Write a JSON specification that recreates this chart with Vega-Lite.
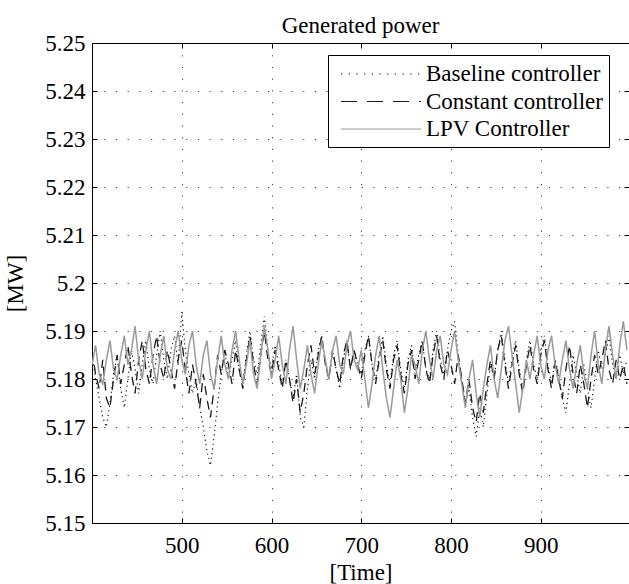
{
  "$schema": "https://vega.github.io/schema/vega-lite/v6.json",
  "autosize": {"type": "none"},
  "padding": {"left": 92, "top": 43, "right": 0, "bottom": 61},
  "width": 537,
  "height": 480,
  "background": "white",
  "title": {"text": "Generated power", "font": "Liberation Serif", "fontSize": 23, "fontWeight": "normal", "color": "black", "baseline": "alphabetic", "offset": 11, "dy": 35, "anchor": "middle"},
  "config": {
    "view": {"stroke": null},
    "axis": {"labelFont": "Liberation Serif", "labelFontSize": 23, "labelColor": "black", "titleFont": "Liberation Serif", "titleFontSize": 23, "titleFontWeight": "normal", "titleColor": "black", "domainColor": "black", "domainWidth": 1, "tickColor": "black", "tickWidth": 1, "tickSize": -5, "gridColor": "#000000", "gridOpacity": 0.75, "gridDash": [1.2, 10.5], "gridWidth": 1},
    "legend": {"labelFont": "Liberation Serif", "labelFontSize": 23, "labelColor": "black", "labelLimit": 0}
  },
  "data": {"values": [
    {"t":400,"b":5.185,"c":5.186,"l":5.183},{"t":404,"b":5.180,"c":5.181,"l":5.187},{"t":408,"b":5.176,"c":5.178,"l":5.181},{"t":412,"b":5.172,"c":5.184,"l":5.179},{"t":416,"b":5.170,"c":5.176,"l":5.184},
    {"t":420,"b":5.175,"c":5.174,"l":5.188},{"t":424,"b":5.181,"c":5.180,"l":5.182},{"t":428,"b":5.185,"c":5.185,"l":5.180},{"t":432,"b":5.178,"c":5.179,"l":5.185},{"t":436,"b":5.174,"c":5.183,"l":5.189},
    {"t":440,"b":5.180,"c":5.187,"l":5.183},{"t":444,"b":5.186,"c":5.181,"l":5.186},{"t":448,"b":5.182,"c":5.177,"l":5.191},{"t":452,"b":5.177,"c":5.184,"l":5.184},{"t":456,"b":5.183,"c":5.188,"l":5.180},
    {"t":460,"b":5.188,"c":5.182,"l":5.186},{"t":464,"b":5.182,"c":5.179,"l":5.190},{"t":468,"b":5.179,"c":5.185,"l":5.183},{"t":472,"b":5.185,"c":5.189,"l":5.179},{"t":476,"b":5.190,"c":5.183,"l":5.185},
    {"t":480,"b":5.184,"c":5.180,"l":5.189},{"t":484,"b":5.180,"c":5.186,"l":5.182},{"t":488,"b":5.186,"c":5.182,"l":5.180},{"t":492,"b":5.189,"c":5.178,"l":5.186},{"t":496,"b":5.183,"c":5.184,"l":5.190},
    {"t":500,"b":5.194,"c":5.188,"l":5.184},{"t":504,"b":5.186,"c":5.182,"l":5.181},{"t":508,"b":5.181,"c":5.177,"l":5.187},{"t":512,"b":5.177,"c":5.183,"l":5.190},{"t":516,"b":5.180,"c":5.179,"l":5.183},
    {"t":520,"b":5.174,"c":5.174,"l":5.179},{"t":524,"b":5.170,"c":5.181,"l":5.185},{"t":528,"b":5.165,"c":5.176,"l":5.188},{"t":532,"b":5.162,"c":5.172,"l":5.181},{"t":536,"b":5.168,"c":5.178,"l":5.178},
    {"t":540,"b":5.175,"c":5.185,"l":5.184},{"t":544,"b":5.181,"c":5.181,"l":5.189},{"t":548,"b":5.186,"c":5.186,"l":5.183},{"t":552,"b":5.180,"c":5.183,"l":5.180},{"t":556,"b":5.184,"c":5.179,"l":5.186},
    {"t":560,"b":5.188,"c":5.186,"l":5.190},{"t":564,"b":5.182,"c":5.182,"l":5.184},{"t":568,"b":5.179,"c":5.178,"l":5.179},{"t":572,"b":5.185,"c":5.184,"l":5.183},{"t":576,"b":5.190,"c":5.189,"l":5.188},
    {"t":580,"b":5.184,"c":5.183,"l":5.181},{"t":584,"b":5.181,"c":5.179,"l":5.178},{"t":588,"b":5.187,"c":5.185,"l":5.185},{"t":592,"b":5.193,"c":5.190,"l":5.191},{"t":596,"b":5.186,"c":5.184,"l":5.186},
    {"t":600,"b":5.182,"c":5.181,"l":5.180},{"t":604,"b":5.187,"c":5.186,"l":5.184},{"t":608,"b":5.183,"c":5.182,"l":5.189},{"t":612,"b":5.179,"c":5.178,"l":5.183},{"t":616,"b":5.184,"c":5.184,"l":5.179},
    {"t":620,"b":5.180,"c":5.180,"l":5.186},{"t":624,"b":5.176,"c":5.175,"l":5.191},{"t":628,"b":5.181,"c":5.180,"l":5.184},{"t":632,"b":5.172,"c":5.173,"l":5.178},{"t":636,"b":5.170,"c":5.177,"l":5.182},
    {"t":640,"b":5.178,"c":5.183,"l":5.187},{"t":644,"b":5.184,"c":5.187,"l":5.181},{"t":648,"b":5.180,"c":5.181,"l":5.177},{"t":652,"b":5.186,"c":5.185,"l":5.183},{"t":656,"b":5.189,"c":5.189,"l":5.188},
    {"t":660,"b":5.183,"c":5.183,"l":5.184},{"t":664,"b":5.180,"c":5.180,"l":5.180},{"t":668,"b":5.186,"c":5.186,"l":5.186},{"t":672,"b":5.182,"c":5.182,"l":5.189},{"t":676,"b":5.178,"c":5.179,"l":5.183},
    {"t":680,"b":5.184,"c":5.185,"l":5.181},{"t":684,"b":5.188,"c":5.188,"l":5.187},{"t":688,"b":5.182,"c":5.182,"l":5.190},{"t":692,"b":5.186,"c":5.186,"l":5.184},{"t":696,"b":5.183,"c":5.183,"l":5.182},
    {"t":700,"b":5.181,"c":5.180,"l":5.186},{"t":704,"b":5.186,"c":5.185,"l":5.180},{"t":708,"b":5.189,"c":5.189,"l":5.174},{"t":712,"b":5.183,"c":5.183,"l":5.179},{"t":716,"b":5.180,"c":5.179,"l":5.185},
    {"t":720,"b":5.185,"c":5.184,"l":5.189},{"t":724,"b":5.189,"c":5.188,"l":5.182},{"t":728,"b":5.183,"c":5.182,"l":5.176},{"t":732,"b":5.179,"c":5.178,"l":5.172},{"t":736,"b":5.185,"c":5.184,"l":5.178},
    {"t":740,"b":5.188,"c":5.187,"l":5.184},{"t":744,"b":5.182,"c":5.181,"l":5.180},{"t":748,"b":5.178,"c":5.177,"l":5.173},{"t":752,"b":5.184,"c":5.183,"l":5.178},{"t":756,"b":5.187,"c":5.186,"l":5.185},
    {"t":760,"b":5.181,"c":5.180,"l":5.183},{"t":764,"b":5.185,"c":5.184,"l":5.179},{"t":768,"b":5.188,"c":5.188,"l":5.186},{"t":772,"b":5.182,"c":5.182,"l":5.190},{"t":776,"b":5.180,"c":5.179,"l":5.184},
    {"t":780,"b":5.186,"c":5.185,"l":5.180},{"t":784,"b":5.190,"c":5.189,"l":5.186},{"t":788,"b":5.184,"c":5.183,"l":5.189},{"t":792,"b":5.181,"c":5.180,"l":5.183},{"t":796,"b":5.186,"c":5.186,"l":5.181},
    {"t":800,"b":5.190,"c":5.183,"l":5.186},{"t":804,"b":5.192,"c":5.179,"l":5.190},{"t":808,"b":5.185,"c":5.185,"l":5.184},{"t":812,"b":5.180,"c":5.180,"l":5.179},{"t":816,"b":5.175,"c":5.175,"l":5.174},
    {"t":820,"b":5.178,"c":5.180,"l":5.180},{"t":824,"b":5.172,"c":5.174,"l":5.184},{"t":828,"b":5.168,"c":5.171,"l":5.177},{"t":832,"b":5.174,"c":5.177,"l":5.172},{"t":836,"b":5.170,"c":5.173,"l":5.178},
    {"t":840,"b":5.177,"c":5.179,"l":5.183},{"t":844,"b":5.183,"c":5.184,"l":5.187},{"t":848,"b":5.180,"c":5.180,"l":5.180},{"t":852,"b":5.186,"c":5.186,"l":5.176},{"t":856,"b":5.190,"c":5.189,"l":5.182},
    {"t":860,"b":5.184,"c":5.183,"l":5.188},{"t":864,"b":5.179,"c":5.178,"l":5.191},{"t":868,"b":5.184,"c":5.183,"l":5.185},{"t":872,"b":5.188,"c":5.187,"l":5.179},{"t":876,"b":5.182,"c":5.181,"l":5.173},
    {"t":880,"b":5.178,"c":5.177,"l":5.178},{"t":884,"b":5.184,"c":5.183,"l":5.184},{"t":888,"b":5.188,"c":5.187,"l":5.180},{"t":892,"b":5.183,"c":5.182,"l":5.185},{"t":896,"b":5.180,"c":5.179,"l":5.189},
    {"t":900,"b":5.186,"c":5.185,"l":5.183},{"t":904,"b":5.189,"c":5.188,"l":5.180},{"t":908,"b":5.183,"c":5.182,"l":5.186},{"t":912,"b":5.179,"c":5.178,"l":5.189},{"t":916,"b":5.184,"c":5.184,"l":5.183},
    {"t":920,"b":5.181,"c":5.180,"l":5.179},{"t":924,"b":5.176,"c":5.176,"l":5.184},{"t":928,"b":5.173,"c":5.182,"l":5.188},{"t":932,"b":5.179,"c":5.187,"l":5.182},{"t":936,"b":5.185,"c":5.181,"l":5.178},
    {"t":940,"b":5.181,"c":5.177,"l":5.183},{"t":944,"b":5.177,"c":5.183,"l":5.187},{"t":948,"b":5.183,"c":5.179,"l":5.181},{"t":952,"b":5.178,"c":5.174,"l":5.178},{"t":956,"b":5.174,"c":5.180,"l":5.185},
    {"t":960,"b":5.180,"c":5.185,"l":5.190},{"t":964,"b":5.186,"c":5.181,"l":5.183},{"t":968,"b":5.182,"c":5.184,"l":5.179},{"t":972,"b":5.185,"c":5.188,"l":5.186},{"t":976,"b":5.189,"c":5.182,"l":5.191},
    {"t":980,"b":5.183,"c":5.179,"l":5.185},{"t":984,"b":5.180,"c":5.184,"l":5.180},{"t":988,"b":5.185,"c":5.180,"l":5.187},{"t":992,"b":5.181,"c":5.183,"l":5.192},{"t":996,"b":5.184,"c":5.179,"l":5.186}
  ]},
  "layer": [
    {
      "mark": {"type": "line", "clip": true, "strokeWidth": 1.1, "strokeDash": [1.2, 3.5]},
      "encoding": {
        "x": {"field": "t", "type": "quantitative", "scale": {"domain": [400, 998.3], "nice": false, "zero": false},
              "axis": {"orient": "bottom", "title": "[Time]", "values": [500, 600, 700, 800, 900], "grid": true, "labelPadding": 16, "titlePadding": 4}},
        "y": {"field": "b", "type": "quantitative", "scale": {"domain": [5.15, 5.25], "nice": false, "zero": false},
              "axis": {"orient": "left", "title": "[MW]", "values": [5.15, 5.16, 5.17, 5.18, 5.19, 5.2, 5.21, 5.22, 5.23, 5.24, 5.25], "format": ".2~f", "grid": true, "labelPadding": 12, "titlePadding": 17}},
        "color": {"datum": "Baseline controller", "type": "nominal",
                  "scale": {"domain": ["Baseline controller", "Constant controller", "LPV Controller"], "range": ["#000000", "#1a1a1a", "#9a9a9a"]},
                  "legend": {"title": null, "orient": "none", "legendX": 236, "legendY": 12, "strokeColor": "black", "fillColor": "white", "padding": 6, "rowPadding": 2.5,
                             "symbolType": "M-1,0H5.667", "symbolSize": 576, "symbolStrokeWidth": 1.2, "symbolOffset": 6, "labelOffset": 60, "labelLimit": 0,
                             "labelExpr": "datum.label + '\u00a0\u00a0\u00a0\u00a0\u2009'",
                             "encode": {"symbols": {"update": {"fill": {"value": "transparent"}, "strokeDash": {"signal": "datum.value === 'Baseline controller' ? [1.2, 6.5] : datum.value === 'Constant controller' ? [16, 10] : []"}}}}}}
      }
    },
    {
      "mark": {"type": "line", "clip": true, "strokeWidth": 1.3, "strokeDash": [9, 6]},
      "encoding": {
        "x": {"field": "t", "type": "quantitative", "axis": null},
        "y": {"field": "c", "type": "quantitative", "axis": null},
        "color": {"datum": "Constant controller", "type": "nominal"}
      }
    },
    {
      "mark": {"type": "line", "clip": true, "strokeWidth": 1.5},
      "encoding": {
        "x": {"field": "t", "type": "quantitative",
              "axis": {"orient": "top", "title": null, "labels": false, "grid": false, "values": [500, 600, 700, 800, 900]}},
        "y": {"field": "l", "type": "quantitative",
              "axis": {"orient": "right", "title": null, "labels": false, "grid": false, "domain": false, "values": [5.15, 5.16, 5.17, 5.18, 5.19, 5.2, 5.21, 5.22, 5.23, 5.24, 5.25]}},
        "color": {"datum": "LPV Controller", "type": "nominal"}
      }
    }
  ],
  "resolve": {"axis": {"x": "independent", "y": "independent"}}
}
